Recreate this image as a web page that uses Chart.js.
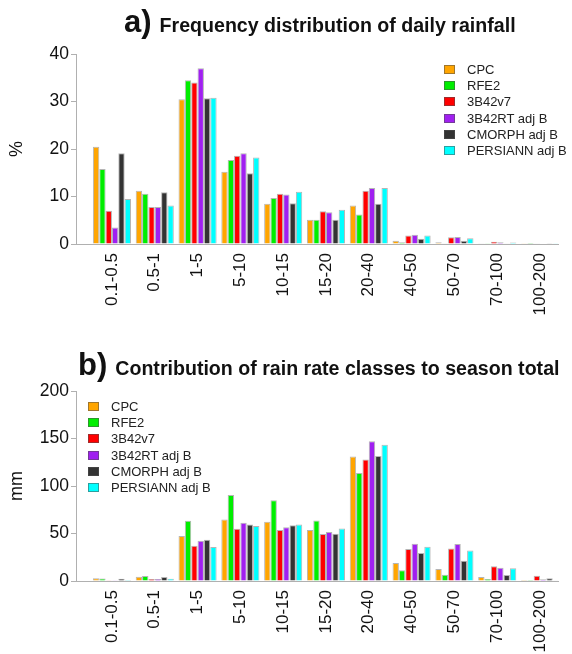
<!DOCTYPE html>
<html>
<head>
<meta charset="utf-8">
<script src="https://cdn.jsdelivr.net/npm/chart.js@4.4.1/dist/chart.umd.min.js"></script>
<style>
body{margin:0;background:#fff;font-family:"Liberation Sans",Arial,sans-serif;}
#page{position:relative;width:572px;height:654px;overflow:hidden;}
canvas{position:absolute;left:0;}
.title{position:absolute;font-weight:bold;white-space:nowrap;color:#111;line-height:31px;}
.title .big{font-size:31px;margin-right:8px;}
.title .small{font-size:19.6px;}
.legend{position:absolute;font-size:13px;color:#222;}
.legend div{height:16.2px;line-height:16.2px;white-space:nowrap;}
.legend i{display:inline-block;width:9px;height:7px;border:1px solid rgba(80,80,80,.55);margin-right:12px;vertical-align:middle;position:relative;top:-1px;}
</style>
</head>
<body>
<div id="page">
<canvas id="freqChart" width="572" height="330" style="top:0"></canvas>
<canvas id="contribChart" width="572" height="324" style="top:330px"></canvas>
<div class="title" style="left:124px;top:6px"><span class="big">a)</span><span class="small">Frequency distribution of daily rainfall</span></div>
<div class="title" style="left:78px;top:349px"><span class="big">b)</span><span class="small">Contribution of rain rate classes to season total</span></div>
<div class="legend" id="legendA" style="left:444px;top:62px"></div>
<div class="legend" id="legendB" style="left:88px;top:399px"></div>
</div>
<script>
/* ================= DATA ================= */
const classes=["0.1-0.5","0.5-1","1-5","5-10","10-15","15-20","20-40","40-50","50-70","70-100","100-200"];
const products=["CPC","RFE2","3B42v7","3B42RT adj B","CMORPH adj B","PERSIANN adj B"];
const colors=["#ffa500","#00ee00","#ff0000","#a020f0","#333333","#00ffff"];

/* a) frequency, % */
const freqCPC     =[20.5,11.2,30.5,15.2, 8.5,5.1, 8.1,0.7 ,0.35,0.15,0.05];
const freqRFE2    =[15.8,10.6,34.5,17.7, 9.7,5.1, 6.2,0.35,0.15,0.05,0.02];
const freq3B42v7  =[ 7.0, 7.8,34.0,18.6,10.6,6.9,11.2,1.8 ,1.4 ,0.5 ,0.15];
const freq3B42RT  =[ 3.5, 7.8,37.0,19.1,10.4,6.7,11.8,1.95,1.5 ,0.35,0.1];
const freqCMORPH  =[19.1,10.9,30.7,14.9, 8.6,5.1, 8.5,1.1 ,0.7 ,0.15,0.05];
const freqPERSIANN=[ 9.5, 8.1,30.8,18.2,11.0,7.2,11.8,1.8 ,1.2 ,0.3 ,0.05];

/* b) contribution, mm */
const mmCPC     =[2.8,4.6,47.3,64.8,62.3,53.6,131.0,18.9,12.6, 4.2,1.1];
const mmRFE2    =[2.6,5.3,63.4,90.4,85.1,63.7,113.8,11.2, 6.7, 2.1,1.1];
const mm3B42v7  =[0.8,2.1,37.1,55.0,53.6,49.4,127.8,33.6,34.3,15.4,5.6];
const mm3B42RT  =[0.8,2.1,42.4,61.3,56.7,51.5,147.1,39.2,38.9,14.0,1.8];
const mmCMORPH  =[2.5,4.2,43.4,59.5,58.8,49.7,131.7,29.4,21.4, 6.3,2.8];
const mmPERSIANN=[1.0,2.5,35.7,57.8,59.5,55.3,143.3,36.1,32.2,13.3,0.7];

const freqSeries=[freqCPC,freqRFE2,freq3B42v7,freq3B42RT,freqCMORPH,freqPERSIANN];
const mmSeries=[mmCPC,mmRFE2,mm3B42v7,mm3B42RT,mmCMORPH,mmPERSIANN];

const FONT="'Liberation Sans', Arial, sans-serif";
const AXIS="#b0b0b0";

/* ================= LEGEND ================= */
function buildLegend(id){
const box=document.getElementById(id);
products.forEach((p,i)=>{
const row=document.createElement("div");
const sw=document.createElement("i");
sw.style.background=colors[i];
row.appendChild(sw);
row.appendChild(document.createTextNode(p));
box.appendChild(row);
});
}

/* ================= CHART ================= */
function makeChart(canvasId,series,yMax,yStep,yTitle,padTop,xHeight){

const datasets=series.map((vals,k)=>({
label:products[k],
data:vals.map((v,i)=>({x:i,y:v})),
backgroundColor:colors[k],
borderColor:"rgba(90,90,90,0.45)",
borderWidth:1,
categoryPercentage:0.89,
barPercentage:1.0
}));

return new Chart(
document.getElementById(canvasId),
{
type:"bar",
data:{datasets:datasets},
options:{
responsive:false,
animation:false,
layout:{padding:{top:padTop,right:14,left:0,bottom:0}},
plugins:{
legend:{display:false},
tooltip:{enabled:false}
},
scales:{
x:{
type:"linear",
offset:false,
min:-0.84,
max:10.42,
afterBuildTicks:(scale)=>{
scale.ticks=classes.map((c,i)=>({value:i}));
},
afterFit:(scale)=>{scale.height=xHeight;},
ticks:{
autoSkip:false,
maxRotation:90,
minRotation:90,
padding:9,
color:"#111",
font:{family:FONT,size:17},
callback:(v)=>classes[v]
},
grid:{display:false,drawTicks:false,offset:false},
border:{color:AXIS,width:1}
},
y:{
min:0,
max:yMax,
afterFit:(scale)=>{scale.width=76;},
ticks:{
stepSize:yStep,
padding:2,
color:"#111",
font:{family:FONT,size:17.5}
},
grid:{drawOnChartArea:false,tickLength:5,color:AXIS},
border:{color:AXIS,width:1},
title:{
display:true,
text:yTitle,
color:"#111",
padding:{top:6,bottom:0},
font:{family:FONT,size:18}
}
}
}
}
}
);

}

buildLegend("legendA");
buildLegend("legendB");
makeChart("freqChart",freqSeries,40,10,"%",54,86);
makeChart("contribChart",mmSeries,200,50,"mm",61,73);
</script>
</body>
</html>
